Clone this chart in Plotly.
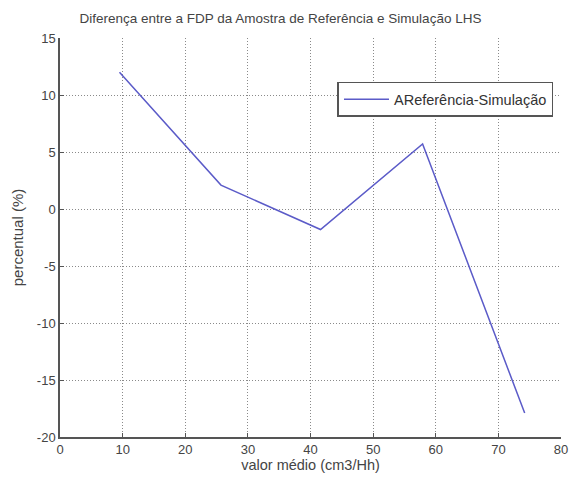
import plotly.graph_objects as go

# Mean value (cm3/Hh) and percentage difference between reference sample PDF and LHS simulation
valor_medio = [9.5, 25.7, 41.6, 57.9, 74.2]
percentual = [12.0, 2.1, -1.8, 5.7, -17.9]

x_ticks = [0, 10, 20, 30, 40, 50, 60, 70, 80]
y_ticks = [-20, -15, -10, -5, 0, 5, 10, 15]
y_tick_text = ["-20", "-15", "-10", "-5", "0", "5", "10", "15"]

font_family = "Liberation Sans, Arial, sans-serif"
text_color = "#444444"

fig = go.Figure()
fig.add_trace(go.Scatter(
    x=valor_medio,
    y=percentual,
    mode="lines",
    name="AReferência-Simulação",
    line=dict(color="#5b5bc8", width=1.5),
))

axis_common = dict(
    showline=True,
    linecolor="#555555",
    linewidth=1.5,
    ticks="inside",
    ticklen=4,
    tickcolor="#555555",
    showgrid=True,
    gridcolor="#8a8a8a",
    griddash="1px,2px",
    gridwidth=1,
    zeroline=False,
    mirror=False,
    tickfont=dict(family=font_family, size=13, color=text_color),
)

fig.update_layout(
    width=576,
    height=477,
    margin=dict(l=60, r=8, t=38, b=39),
    paper_bgcolor="white",
    plot_bgcolor="white",
    title=dict(
        text="Diferença entre a FDP da Amostra de Referência e Simulação LHS",
        x=0.44,
        xref="paper",
        xanchor="center",
        y=1 - 18 / 477,
        yanchor="middle",
        font=dict(family=font_family, size=13.5, color=text_color),
    ),
    xaxis=dict(
        range=[0, 80],
        tickvals=x_ticks,
        title=dict(text="valor médio (cm3/Hh)", standoff=2,
                   font=dict(family=font_family, size=14.5, color=text_color)),
        **axis_common,
    ),
    yaxis=dict(
        range=[-20, 15],
        tickvals=y_ticks,
        ticktext=y_tick_text,
        title=dict(text="percentual (%)", standoff=10,
                   font=dict(family=font_family, size=15, color=text_color)),
        **axis_common,
    ),
    showlegend=True,
    legend=dict(
        x=0.985,
        y=0.89,
        xanchor="right",
        yanchor="top",
        bgcolor="white",
        bordercolor="#555555",
        borderwidth=1.5,
        font=dict(family=font_family, size=14.5, color="#333333"),
        itemwidth=45,
    ),
)

fig.write_html("out.html")
